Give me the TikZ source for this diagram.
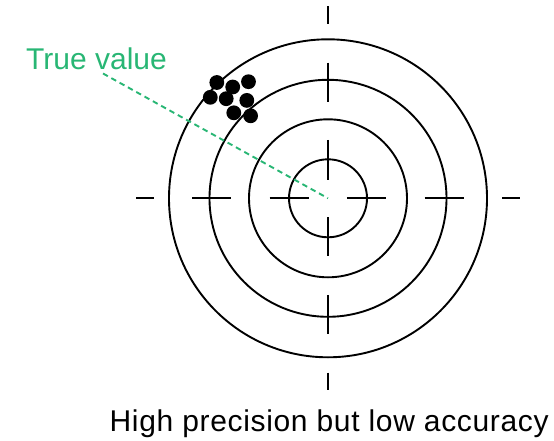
\documentclass[tikz,border=0pt]{standalone}
\usepackage{fontspec}
\setmainfont{Liberation Sans}
\usetikzlibrary{calc}
\definecolor{tvgreen}{RGB}{40,182,116}
\begin{document}
\begin{tikzpicture}[x=1pt,y=-1pt,
  ring/.style={draw=black,line width=1.9pt},
  tick/.style={draw=black,line width=1.9pt},
  shot/.style={circle,fill=black,inner sep=0pt,minimum size=14.8pt},
  truedash/.style={draw=tvgreen,line width=1.9pt,dash pattern=on 5.5pt off 4pt},
  lbl/.style={font=\fontsize{30}{36}\selectfont,inner sep=0pt}]
\useasboundingbox (0,0) rectangle (554,441);
\coordinate (c) at (328,198.3);
% rings
\foreach \r in {39,79,118.5,159}
  \draw[ring] (c) circle[radius=\r];
% ticks (vertical and horizontal)
\foreach \a/\b in {-192/-174.3,-135.6/-96.6,-58.3/-18.8,18.8/57.7,96.6/135.6,174.3/192}{
  \draw[tick] ($(c)+(0,\a)$) -- ($(c)+(0,\b)$);
  \draw[tick] ($(c)+(\a,0)$) -- ($(c)+(\b,0)$);
}
% shots
\node[shot] (s1) at (216.8,82.5) {};
\node[shot] (s2) at (232.7,87.0) {};
\node[shot] (s3) at (248.5,81.7) {};
\node[shot] (s4) at (210.3,97.3) {};
\node[shot] (s5) at (226.2,98.7) {};
\node[shot] (s6) at (246.8,100.4) {};
\node[shot] (s7) at (233.8,112.8) {};
\node[shot] (s8) at (250.6,115.8) {};
% true value
\node[lbl,text=tvgreen,anchor=base west] (tv) at (26,69.3) {True value};
\coordinate (tvend) at (103,73.5);
\draw[truedash] (tvend) -- (c);
% caption
\node[lbl,anchor=base west] (cap) at (109.5,431.7) {\addfontfeature{LetterSpace=2.2}High precision but low accuracy};
\end{tikzpicture}
\end{document}
